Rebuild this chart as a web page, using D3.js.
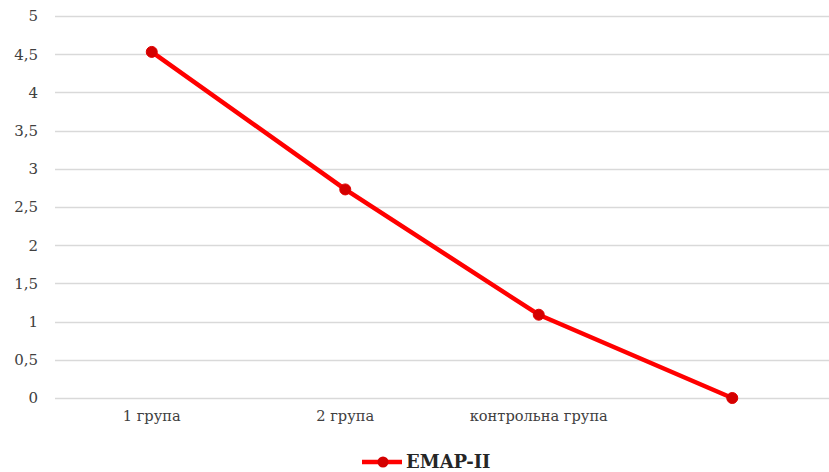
<!DOCTYPE html>
<html>
<head>
<meta charset="utf-8">
<script src="https://cdn.jsdelivr.net/npm/d3@7"></script>
<style>
  body { margin: 0; background: #fff; }
</style>
</head>
<body>
<div id="chart"></div>
<script>
// categories and series values
var categories = ["1 група", "2 група", "контрольна група", ""];
var values = [4.53, 2.73, 1.09, 0];
var seriesName = "EMAP-II";
var yTicks = [0, 0.5, 1, 1.5, 2, 2.5, 3, 3.5, 4, 4.5, 5];

var serif = "'DejaVu Serif', serif";

var width = 829, height = 472;
var margin = { top: 16, left: 55, right: 0, bottom: 74 };

var svg = d3.select("#chart").append("svg")
    .attr("width", width)
    .attr("height", height);

var innerW = width - margin.left - margin.right;
var innerH = height - margin.top - margin.bottom;

var g = svg.append("g")
    .attr("transform", "translate(" + margin.left + "," + margin.top + ")");

var x = d3.scaleBand()
    .domain(categories.map(function(d, i) { return i; }))
    .range([0, innerW]);

var y = d3.scaleLinear()
    .domain([0, 5])
    .range([innerH, 0]);

// gridlines
g.selectAll(".grid")
  .data(yTicks)
  .enter().append("line")
  .attr("x1", 0)
  .attr("x2", innerW)
  .attr("y1", function(d) { return Math.round(y(d)) + 0.5; })
  .attr("y2", function(d) { return Math.round(y(d)) + 0.5; })
  .style("stroke", "#d9d9d9")
  .style("stroke-width", 1.3);

// y axis labels
var yAxis = d3.axisLeft(y)
    .tickValues(yTicks)
    .tickSize(0)
    .tickPadding(17)
    .tickFormat(function(d) { return String(d).replace(".", ","); });

g.append("g")
  .call(yAxis)
  .attr("font-family", serif)
  .attr("font-size", 15)
  .call(function(a) { a.select(".domain").remove(); })
  .selectAll("text")
  .attr("fill", "#404040");

// x axis labels
var xAxis = d3.axisBottom(x)
    .tickSize(0)
    .tickPadding(13)
    .tickFormat(function(i) { return categories[i]; });

g.append("g")
  .attr("transform", "translate(0," + innerH + ")")
  .call(xAxis)
  .attr("font-family", serif)
  .attr("font-size", 14.6)
  .call(function(a) { a.select(".domain").remove(); })
  .selectAll("text")
  .attr("fill", "#404040");

var line = d3.line()
    .x(function(d, i) { return x(i) + x.bandwidth() / 2; })
    .y(function(d) { return y(d); });

g.append("path")
  .datum(values)
  .attr("d", line)
  .style("fill", "none")
  .style("stroke", "#ff0000")
  .style("stroke-width", 4.5)
  .style("stroke-linejoin", "round");

g.selectAll(".pt")
  .data(values)
  .enter().append("circle")
  .attr("cx", function(d, i) { return x(i) + x.bandwidth() / 2; })
  .attr("cy", function(d) { return y(d); })
  .attr("r", 5.5)
  .style("fill", "#d40000")
  .style("stroke", "#e00000")
  .style("stroke-width", 1);

// legend
var legend = svg.append("g")
    .attr("transform", "translate(362," + 462 + ")");

legend.append("line")
  .attr("x1", 0).attr("x2", 40)
  .attr("y1", 0).attr("y2", 0)
  .style("stroke", "#ff0000")
  .style("stroke-width", 4.5);

legend.append("circle")
  .attr("cx", 21).attr("cy", 0).attr("r", 5.5)
  .style("fill", "#d40000");

legend.append("text")
  .attr("x", 44)
  .attr("y", 0)
  .attr("dy", "0.36em")
  .attr("font-family", serif)
  .attr("font-size", 18)
  .attr("font-weight", "bold")
  .attr("fill", "#262626")
  .text(seriesName);
</script>
</body>
</html>
